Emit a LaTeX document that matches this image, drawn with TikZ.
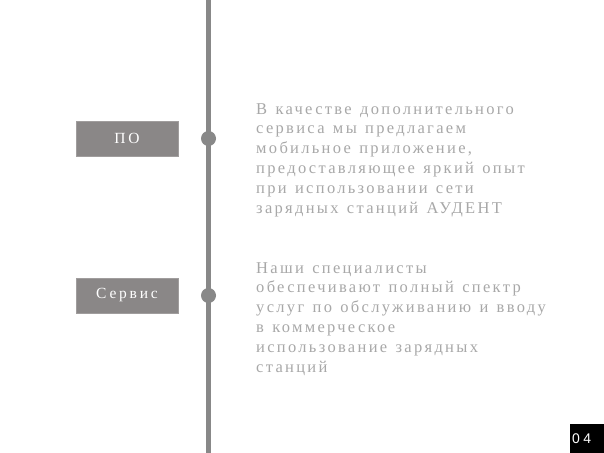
\documentclass[tikz,border=0pt]{standalone}
\usepackage{fontspec}
\setmainfont{Liberation Serif}
\newfontfamily\bodyfont[LetterSpace=14,WordSpace=1.3]{Liberation Serif}
\newfontfamily\labelfont[LetterSpace=18]{Liberation Serif}
\newfontfamily\numfont[LetterSpace=25]{Liberation Sans}
\definecolor{linegray}{HTML}{888888}
\definecolor{boxgray}{HTML}{8A8787}
\definecolor{boxedge}{HTML}{A09D9D}
\definecolor{textgray}{HTML}{A8A8A8}
\begin{document}
\begin{tikzpicture}[x=1bp,y=-1bp,
  labelbox/.style={draw=boxedge,line width=0.8bp,fill=boxgray,minimum width=102bp,minimum height=35bp,inner sep=0pt,text=white,font=\labelfont\fontsize{15.5bp}{18bp}\selectfont},
  dot/.style={circle,fill=linegray,minimum size=15bp,inner sep=0pt},
  bodytext/.style={anchor=north west,align=left,inner sep=0pt,text=textgray,font=\bodyfont\fontsize{16.5bp}{19.8bp}\selectfont}]
\useasboundingbox (0,0) rectangle (604,453);
\fill[white] (0,0) rectangle (604,453);
\coordinate (top) at (208.5,0);
\coordinate (bot) at (208.5,453);
\draw[linegray,line width=4.5bp] (top) -- (bot);
\node[dot] (d1) at (208.5,138.5) {};
\node[dot] (d2) at (208.5,295.5) {};
\node[labelbox] (b1) at (127,138.5) {ПО};
\node[labelbox] (b2) at (127,295.5) {Сервис};
\node[bodytext] (t1) at (256,103) {В качестве дополнительного\\сервиса мы предлагаем\\мобильное приложение,\\предоставляющее яркий опыт\\при использовании сети\\зарядных станций АУДЕНТ};
\node[bodytext] (t2) at (256,262) {Наши специалисты\\обеспечивают полный спектр\\услуг по обслуживанию и вводу\\в коммерческое\\использование зарядных\\станций};
\fill[black] (570,424) rectangle (604,453);
\node[anchor=west,text=white,inner sep=0pt,font=\numfont\fontsize{14bp}{16bp}\selectfont] (num) at (572,438.5) {04};
\end{tikzpicture}
\end{document}
